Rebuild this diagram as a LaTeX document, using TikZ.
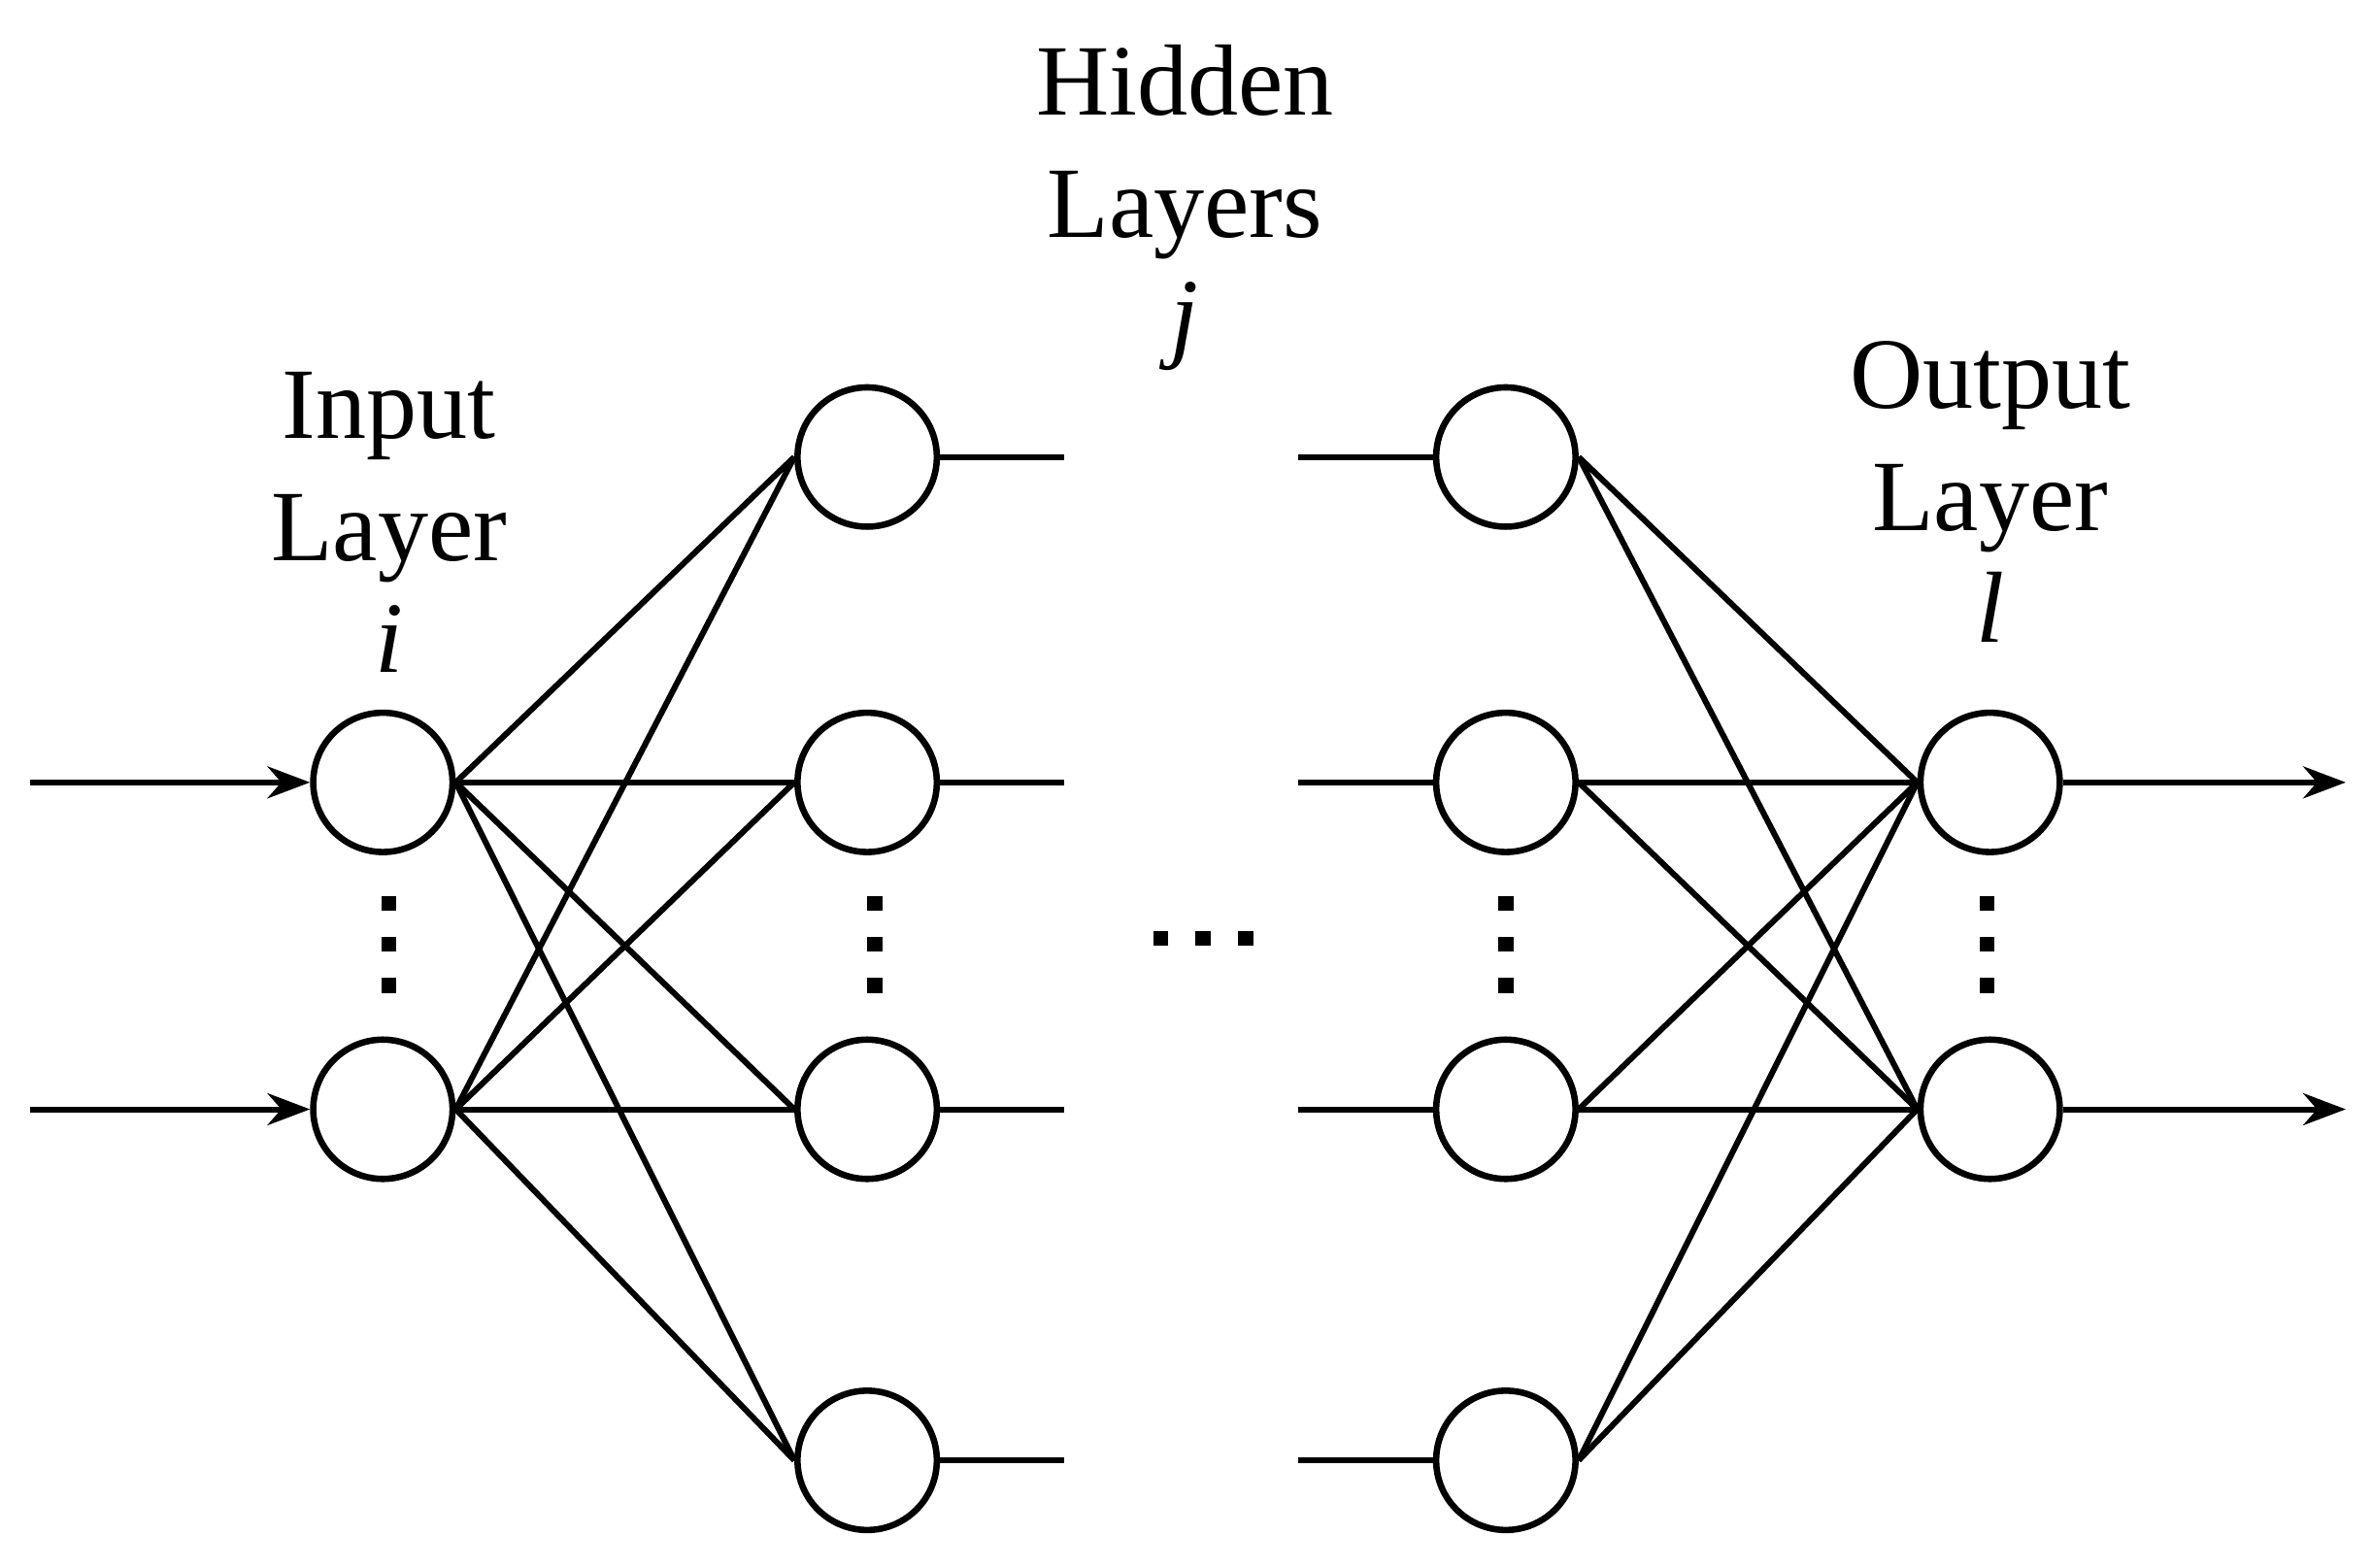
\documentclass[tikz,border=0pt]{standalone}
\usepackage{fontspec}
\setmainfont{Liberation Serif}
\usetikzlibrary{arrows.meta,positioning}

\begin{document}
\begin{tikzpicture}[x=0.01cm,y=-0.01cm,
    neuron/.style={circle, draw, line width=1.2pt, minimum size=0.92cm, inner sep=0pt},
    conn/.style={line width=1.1pt},
    lbl/.style={font=\fontsize{19}{23}\selectfont, align=center},
    dot/.style={fill, inner sep=0pt, minimum size=0.1cm}]
    \useasboundingbox (0,0) rectangle (1568,1036);

    % Neurons
    \node[neuron] (in1) at (253,517) {};
    \node[neuron] (in2) at (253,733) {};
    \foreach \k/\y in {1/302,2/517,3/733,4/965} {
        \node[neuron] (ha\k) at (573,\y) {};
        \node[neuron] (hb\k) at (995,\y) {};
    }
    \node[neuron] (out1) at (1315,517) {};
    \node[neuron] (out2) at (1315,733) {};

    % Weights
    \foreach \i in {1,2} {
        \foreach \k in {1,...,4} {
            \draw[conn] (in\i.east) -- (ha\k.west);
            \draw[conn] (hb\k.east) -- (out\i.west);
        }
    }

    % Stubs towards the omitted layers
    \foreach \k/\y in {1/302,2/517,3/733,4/965} {
        \coordinate (sa\k) at (703,\y);
        \coordinate (sb\k) at (858,\y);
        \draw[conn] (ha\k) -- (sa\k);
        \draw[conn] (sb\k) -- (hb\k);
    }

    % Inputs and outputs
    \coordinate (x1) at (20,517);
    \coordinate (x2) at (20,733);
    \coordinate (y1) at (1550,517);
    \coordinate (y2) at (1550,733);
    \draw[conn, -{Stealth[length=8pt]}] (x1) -- (in1);
    \draw[conn, -{Stealth[length=8pt]}] (x2) -- (in2);
    \draw[conn, -{Stealth[length=8pt]}] (out1) -- (y1);
    \draw[conn, -{Stealth[length=8pt]}] (out2) -- (y2);

    % Ellipses
    \foreach \x in {257,578,995,1313}
        \foreach \y in {597,624,651}
            \node[dot] at (\x,\y) {};
    \foreach \x in {767,795,823}
        \node[dot] at (\x,620) {};

    % Labels
    \node[lbl] (linput) at (257,345) {Input\\Layer\\[-2pt]\textit{i}};
    \node[lbl] (lhidden) at (783,137) {Hidden\\Layers\\[-2pt]\textit{j}};
    \node[lbl] (loutput) at (1315,325) {Output\\Layer\\[-2pt]\textit{l}};
\end{tikzpicture}
\end{document}
